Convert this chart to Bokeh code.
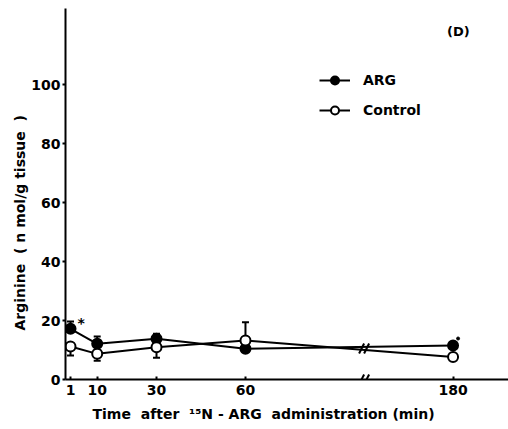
import math
from bokeh.plotting import figure
from bokeh.models import (Range1d, FixedTicker, Label, Legend, LegendItem,
                          ColumnDataSource, Whisker, TeeHead, Title)
from bokeh.embed import file_html
from bokeh.resources import INLINE

# ---- data ----
times = [1, 10, 30, 60, 180]
tick_labels = ["1", "10", "30", "60", "180"]
arg_mean = [17.2, 12.1, 13.8, 10.4, 11.5]
ctrl_mean = [11.2, 8.7, 10.9, 13.2, 7.6]
# error bar ends (None = not drawn)
arg_err_end = [19.7, 14.6, 15.5, None, None]
ctrl_err_end = [8.1, 6.4, 7.4, 19.4, None]
y_ticks = [0, 20, 40, 60, 80, 100]

# ---- broken time axis mapping ----
BREAK_AT = 100      # axis position of the break
SKIP = 50           # minutes removed by the break
def xpos(t):
    return t if t <= BREAK_AT else t - SKIP

xs = [xpos(t) for t in times]

FONT = "DejaVu Sans"
INK = "black"
FS = "14px"
SP = "\u00a0"

p = figure(width=508, height=429, output_backend="svg", toolbar_location=None,
           x_range=Range1d(-0.69, 148.7), y_range=Range1d(0, 125.8),
           min_border_left=65, min_border_right=0, min_border_top=8,
           min_border_bottom=50)
p.outline_line_color = None
p.xgrid.visible = False
p.ygrid.visible = False
p.background_fill_color = "white"

# lines
l_arg = p.line(xs, arg_mean, line_color=INK, line_width=2)
l_ctrl = p.line(xs, ctrl_mean, line_color=INK, line_width=2)

# error bars
up_x, up_lo, up_hi = [], [], []
dn_x, dn_lo, dn_hi = [], [], []
for x, m, e in list(zip(xs, arg_mean, arg_err_end)) + list(zip(xs, ctrl_mean, ctrl_err_end)):
    if e is None:
        continue
    if e > m:
        up_x.append(x); up_lo.append(m); up_hi.append(e)
    else:
        dn_x.append(x); dn_lo.append(e); dn_hi.append(m)
src_up = ColumnDataSource(dict(x=up_x, lo=up_lo, hi=up_hi))
src_dn = ColumnDataSource(dict(x=dn_x, lo=dn_lo, hi=dn_hi))
p.add_layout(Whisker(source=src_up, base="x", lower="lo", upper="hi",
                     line_width=2, line_color=INK, lower_head=None,
                     upper_head=TeeHead(size=7, line_width=2, line_color=INK)))
p.add_layout(Whisker(source=src_dn, base="x", lower="lo", upper="hi",
                     line_width=2, line_color=INK, upper_head=None,
                     lower_head=TeeHead(size=7, line_width=2, line_color=INK)))

# markers
s_arg = p.scatter(xs, arg_mean, size=10, marker="circle", fill_color=INK,
                  line_color=INK, line_width=2)
s_ctrl = p.scatter(xs, ctrl_mean, size=10, marker="circle", fill_color="white",
                   line_color=INK, line_width=2)

# break marks "//" on the lines and on the axis
pxx = 1 / 2.966
pxy = 1 / 2.95
def break_mark(yc):
    for off in (-2.5, 2.5):
        p.segment(x0=[BREAK_AT + (off - 2.5) * pxx], y0=[yc - 5 * pxy],
                  x1=[BREAK_AT + (off + 2.5) * pxx], y1=[yc + 5 * pxy],
                  line_color=INK, line_width=2)
break_mark(10.5)
break_mark(0)

# axes
p.xaxis.ticker = FixedTicker(ticks=xs)
p.xaxis.major_label_overrides = {x: lab for x, lab in zip(xs, tick_labels)}
p.yaxis.ticker = FixedTicker(ticks=y_ticks)
for ax in (p.xaxis, p.yaxis):
    ax.axis_line_width = 2
    ax.axis_line_color = INK
    ax.major_tick_line_width = 2
    ax.major_tick_line_color = INK
    ax.minor_tick_line_color = None
    ax.major_label_text_font = FONT
    ax.major_label_text_font_size = FS
    ax.major_label_text_font_style = "bold"
    ax.major_label_text_color = INK
p.xaxis.major_tick_in = 3
p.xaxis.major_tick_out = 0
p.xaxis.major_label_standoff = 5
p.yaxis.major_tick_in = 0
p.yaxis.major_tick_out = 3
p.yaxis.major_label_standoff = 2

# axis titles
p.add_layout(Title(text="Arginine" + SP * 2 + "(" + SP + "n" + SP + "mol/g" + SP + "tissue" + SP * 2 + ")",
                   align="left", offset=49,
                   standoff=2, text_font=FONT, text_font_size=FS,
                   text_font_style="bold", text_color=INK), "left")
p.add_layout(Title(text="Time" + SP * 2 + "after" + SP * 2 + "\u00b9\u2075N" + SP + "-" + SP
                   + "ARG" + SP * 2 + "administration" + SP + "(min)",
                   align="left", offset=27, standoff=13, text_font=FONT,
                   text_font_size=FS, text_font_style="bold",
                   text_color=INK), "below")

# panel letter and significance marks
p.add_layout(Label(x=131.8, y=118, text="(D)", text_align="center",
                   text_baseline="middle", text_font=FONT, text_color=INK,
                   text_font_size="13px", text_font_style="bold"))
p.add_layout(Label(x=4.6, y=19, text="*", text_align="center",
                   text_baseline="middle", text_font=FONT, text_color=INK,
                   text_font_size=FS, text_font_style="bold"))
p.scatter([xpos(180) + 1.7], [13.9], size=3, color=INK)

legend = Legend(items=[LegendItem(label="ARG", renderers=[l_arg, s_arg]),
                       LegendItem(label="Control", renderers=[l_ctrl, s_ctrl])],
                location=(254, 259), glyph_width=31, glyph_height=20,
                label_height=20, spacing=10, padding=0, margin=0,
                label_standoff=13, border_line_color=None,
                background_fill_alpha=0, label_text_color=INK,
                label_text_font=FONT, label_text_font_size=FS,
                label_text_font_style="bold")
p.add_layout(legend)

open("out.html", "w").write(file_html(p, INLINE))
